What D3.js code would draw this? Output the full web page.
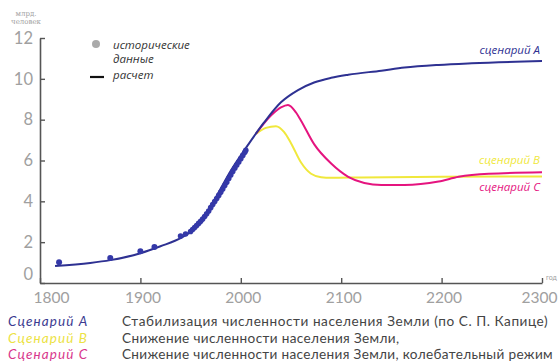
<!DOCTYPE html>
<html><head><meta charset="utf-8">
<script src="https://cdn.jsdelivr.net/npm/d3@7"></script>
<style>
body{margin:0;background:#fff;}
svg{display:block;}
</style></head>
<body>
<svg id="c" width="560" height="362"></svg>
<script>
// ---- data ----
const xTicks = [1800, 1900, 2000, 2100, 2200, 2300];
const yTicks = [0, 2, 4, 6, 8, 10, 12];
const histYears  = [1819, 1870, 1900, 1914, 1940, 1945, 1950, 1952, 1954, 1956, 1958, 1960, 1962, 1964, 1966, 1968, 1970, 1972, 1974, 1976, 1978, 1980, 1982, 1984, 1986, 1988, 1990, 1992, 1994, 1996, 1998, 2000, 2002, 2004, 2005];
const histValues = [1.02, 1.22, 1.56, 1.76, 2.3, 2.4, 2.52, 2.62, 2.72, 2.82, 2.92, 3.02, 3.13, 3.26, 3.39, 3.53, 3.69, 3.84, 3.99, 4.14, 4.29, 4.44, 4.6, 4.77, 4.94, 5.12, 5.29, 5.46, 5.62, 5.78, 5.93, 6.09, 6.25, 6.4, 6.5];
const aYears  = [1815, 1850, 1870, 1900, 1920, 1941, 1950, 1960, 1973, 1990, 2007, 2023, 2040, 2057, 2073, 2090, 2107, 2140, 2163, 2197, 2230, 2300];
const aValues = [0.83, 0.98, 1.12, 1.46, 1.8, 2.22, 2.5, 2.95, 4.0, 5.5, 6.75, 7.85, 8.85, 9.45, 9.82, 10.05, 10.2, 10.4, 10.55, 10.68, 10.76, 10.87];
const bYears  = [2015, 2025, 2035, 2043, 2050, 2060, 2070, 2080, 2090, 2120, 2200, 2300];
const bValues = [7.3, 7.6, 7.68, 7.4, 6.85, 5.9, 5.35, 5.18, 5.15, 5.17, 5.2, 5.22];
const cYears  = [2015, 2030, 2040, 2047, 2055, 2060, 2073, 2090, 2107, 2123, 2140, 2163, 2197, 2217, 2247, 2300];
const cValues = [7.3, 8.2, 8.6, 8.72, 8.35, 7.95, 6.8, 5.85, 5.2, 4.9, 4.8, 4.8, 4.97, 5.2, 5.35, 5.42];
const scenarioNames = ["Сценарий A", "Сценарий B", "Сценарий C"];
const scenarioDescs = ["Стабилизация численности населения Земли (по С. П. Капице)", "Снижение численности населения Земли,", "Снижение численности населения Земли, колебательный режим"];
const curveLabels = ["сценарий A", "сценарий B", "сценарий C"];
const yUnit = ["млрд.", "человек"];
const xUnit = "год";
const legendTexts = ["исторические", "данные", "расчет"];

// ---- drawing ----
const colA = "#2e3192", colB = "#f0e83c", colC = "#e5147f";
const svg = d3.select("#c");
const x = d3.scaleLinear().domain([1800, 2300]).range([40, 542]);
const y = d3.scaleLinear().domain([0, 12]).range([283, 38]);
const axisCol = "#555", labCol = "#a0a0a0";
const font = "Lato, 'Open Sans', sans-serif";

// axes
const gx = svg.append("g").attr("transform", "translate(0,283)")
  .call(d3.axisBottom(x).tickValues(xTicks).tickFormat(d3.format("d")).tickSizeInner(-5).tickSizeOuter(0).tickPadding(9));
gx.select(".domain").attr("stroke", axisCol).attr("stroke-width", 1.6);
gx.selectAll(".tick line").attr("stroke", axisCol).attr("stroke-width", 1.4);
gx.selectAll(".tick text").attr("fill", labCol).attr("font-size", 15.5).attr("font-family", font)
  .attr("dx", d => d === 1800 ? 11 : (d === 2300 ? -3 : 2));

const gy = svg.append("g").attr("transform", "translate(40,0)")
  .call(d3.axisLeft(y).tickValues(yTicks).tickSizeInner(-5).tickSizeOuter(0).tickPadding(7));
gy.select(".domain").attr("stroke", axisCol).attr("stroke-width", 1.6);
gy.selectAll(".tick line").attr("stroke", axisCol).attr("stroke-width", 1.4);
gy.selectAll(".tick text").attr("fill", labCol).attr("font-size", 16.5).attr("font-family", font)
  .attr("dy", d => d === 0 ? "-0.2em" : "0.32em");

// units
svg.append("g").selectAll("text").data(yUnit).join("text")
  .attr("x", 26).attr("y", (d, i) => 16 + i * 8).attr("text-anchor", "middle")
  .attr("font-size", 7).attr("fill", labCol).attr("font-family", "'DejaVu Serif', serif").text(d => d);
svg.append("text").attr("x", 546).attr("y", 280).attr("font-size", 7).attr("fill", labCol)
  .attr("font-family", font).text(xUnit);

// lines
const line = d3.line().x(d => x(d[0])).y(d => y(d[1])).curve(d3.curveMonotoneX);
const zip = (a, b) => a.map((v, i) => [v, b[i]]);
svg.append("path").datum(zip(bYears, bValues)).attr("d", line).attr("fill", "none").attr("stroke", colB).attr("stroke-width", 2);
svg.append("path").datum(zip(cYears, cValues)).attr("d", line).attr("fill", "none").attr("stroke", colC).attr("stroke-width", 2);
svg.append("path").datum(zip(aYears, aValues)).attr("d", line).attr("fill", "none").attr("stroke", colA).attr("stroke-width", 2);

// historic dots
svg.append("g").selectAll("circle").data(zip(histYears, histValues)).join("circle")
  .attr("cx", d => x(d[0])).attr("cy", d => y(d[1])).attr("r", d => d[0] < 1930 ? 3 : 2.8).attr("fill", "#3438a8");

// legend
svg.append("circle").attr("cx", 96).attr("cy", 44).attr("r", 4).attr("fill", "#aaa");
svg.append("line").attr("x1", 90).attr("x2", 104).attr("y1", 77).attr("y2", 77).attr("stroke", "#111").attr("stroke-width", 2.2);
svg.append("g").selectAll("text").data(legendTexts).join("text")
  .attr("x", 113).attr("y", (d, i) => [49, 63, 79][i])
  .attr("font-size", 11.5).attr("font-style", "italic").attr("fill", "#333").attr("font-family", "'Open Sans', sans-serif")
  .text(d => d);

// curve labels
const cl = [[curveLabels[0], colA, 54], [curveLabels[1], colB, 164], [curveLabels[2], colC, 191]];
svg.append("g").selectAll("text").data(cl).join("text")
  .attr("x", 540).attr("y", d => d[2]).attr("text-anchor", "end")
  .attr("font-size", 11.5).attr("font-style", "italic").attr("fill", d => d[1]).attr("font-family", "'Open Sans', sans-serif")
  .text(d => d[0]);

// bottom legend
const nameCols = ["#3b3b90", "#ece244", "#d8378c"];
svg.append("g").selectAll("text").data(scenarioNames).join("text")
  .attr("x", 8).attr("y", (d, i) => 326 + i * 16.5)
  .attr("font-size", 13.5).attr("font-style", "italic").attr("fill", (d, i) => nameCols[i]).attr("font-family", font)
  .attr("letter-spacing", 1.1)
  .text(d => d);
const desc = svg.append("g").selectAll("text").data(scenarioDescs).join("text")
  .attr("x", 122).attr("y", (d, i) => 326 + i * 16.5)
  .attr("font-size", 13.6).attr("fill", "#444").attr("font-family", font).attr("letter-spacing", 0.35)
  .text(d => d);
desc.filter((d, i) => i === 0).attr("textLength", 426).attr("lengthAdjust", "spacing");
desc.filter((d, i) => i === 2).attr("textLength", 431).attr("lengthAdjust", "spacing");
</script>
</body></html>
